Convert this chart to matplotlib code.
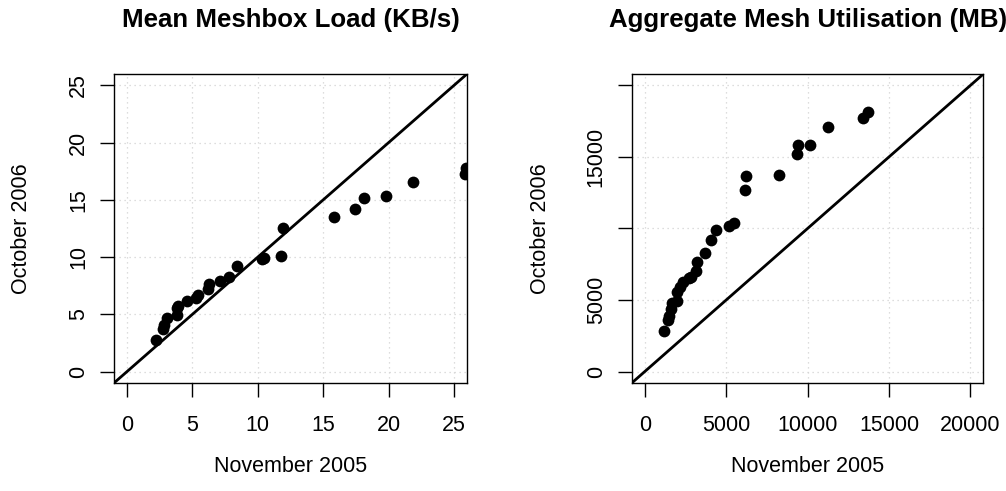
# Meshbox load / utilisation: Nov 2005 vs Oct 2006

import numpy as np
import matplotlib
matplotlib.use('Agg')
import matplotlib.pyplot as plt

plt.rcParams['font.family'] = ['Liberation Sans', 'DejaVu Sans']

# 1. data
load_nov = [2.24, 2.76, 2.84, 3.02, 3.79, 3.84, 3.92, 4.56, 5.28, 5.39, 6.16, 6.24,
            7.09, 7.78, 8.38, 10.34, 10.49, 11.78, 11.93, 15.85, 17.47, 18.14,
            19.82, 21.88, 25.85, 25.95]
load_oct = [2.76, 3.69, 4.07, 4.65, 4.94, 5.52, 5.76, 6.16, 6.40, 6.69, 7.18, 7.65,
            7.94, 8.23, 9.22, 9.83, 9.94, 10.09, 12.53, 13.52, 14.16, 15.20,
            15.35, 16.57, 17.30, 17.82]

util_nov = [1188, 1455, 1496, 1598, 1660, 2008, 1967, 2172, 2377, 2725, 2828, 3176,
            3237, 3709, 4057, 4364, 5184, 5491, 6167, 6208, 8217, 9323, 9384,
            10142, 11269, 13380, 13687]
util_oct = [2838, 3605, 3884, 4349, 4768, 4931, 5582, 5931, 6280, 6513, 6629, 7025,
            7676, 8304, 9188, 9886, 10188, 10351, 12677, 13677, 13770, 15235, 15863,
            15863, 17096, 17747, 18143]

load_ticks = [0, 5, 10, 15, 20, 25]
util_ticks = [0, 5000, 10000, 15000, 20000]
util_ylabels = ['0', '5000', '', '15000', '']

panels = [
    ('Mean Meshbox Load (KB/s)', load_nov, load_oct, (0, 25), load_ticks,
     [str(t) for t in load_ticks], [str(t) for t in load_ticks]),
    ('Aggregate Mesh Utilisation (MB)', util_nov, util_oct, (0, 20000), util_ticks,
     [str(t) for t in util_ticks], util_ylabels),
]

# 2. figure, positions in figure fractions
fig = plt.figure(figsize=(10.06, 4.91), dpi=100)
rects = [[0.1133, 0.22, 0.3509, 0.6293], [0.628, 0.22, 0.3495, 0.6293]]

for rect, (title, xs, ys, lim, ticks, xlab, ylab) in zip(rects, panels):
    ax = fig.add_axes(rect)
    pad = (lim[1] - lim[0]) * 0.04
    ax.set_xlim(lim[0] - pad, lim[1] + pad)
    ax.set_ylim(lim[0] - pad, lim[1] + pad)

    # grid like R's grid(): light grey dotted
    for t in ticks:
        ax.axvline(t, color='lightgray', lw=0.9, ls=(0, (1, 3)), zorder=0)
        ax.axhline(t, color='lightgray', lw=0.9, ls=(0, (1, 3)), zorder=0)

    # y = x reference line
    ax.axline((0, 0), slope=1, color='black', lw=2.0, zorder=2)
    ax.scatter(xs, ys, s=72, color='black', linewidths=0, zorder=3)

    ax.set_xticks(ticks)
    ax.set_xticklabels(xlab)
    ax.set_yticks(ticks)
    ax.set_yticklabels(ylab, rotation=90, va='center')
    ax.tick_params(labelsize=15.5, length=10, width=1.0, pad=8)
    ax.tick_params(axis='x', pad=13)
    for s in ax.spines.values():
        s.set_linewidth(1.0)

    ax.set_xlabel('November 2005', fontsize=15.5, va='center')
    ax.set_ylabel('October 2006', fontsize=15.5, va='center')
    ax.xaxis.set_label_coords(0.5, -0.269)
    ax.yaxis.set_label_coords(-0.261, 0.5)
    ax.text(0.5, 1.175, title, transform=ax.transAxes, ha='center', va='center',
            fontsize=18.6, fontweight='bold')

plt.savefig('out.png', dpi=100)
